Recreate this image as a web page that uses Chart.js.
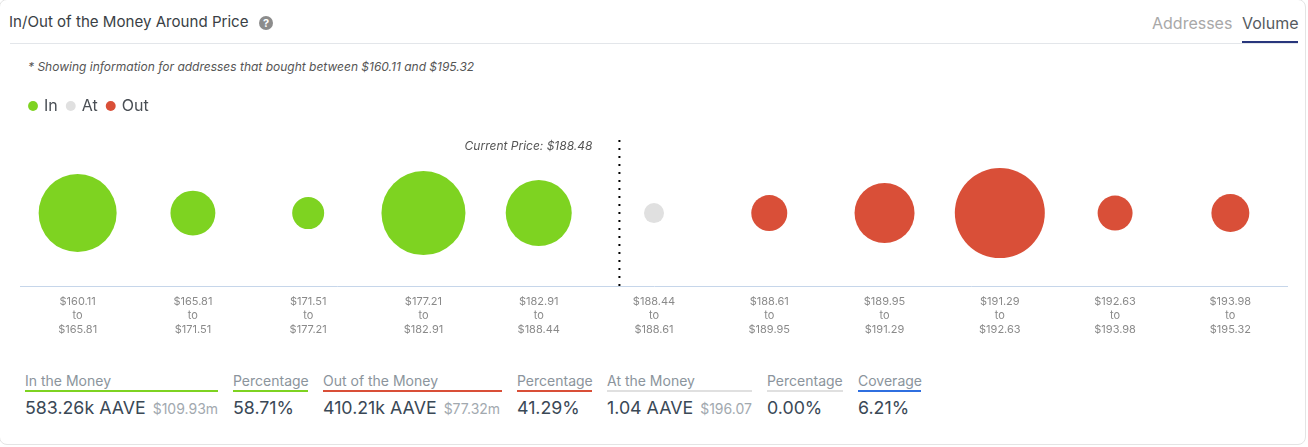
<!DOCTYPE html>
<html>
<head>
<meta charset="utf-8">
<script src="https://cdn.jsdelivr.net/npm/chart.js@4/dist/chart.umd.min.js"></script>
<style>
  html, body { margin: 0; padding: 0; background: #fff; }
  body { width: 1308px; height: 447px; overflow: hidden; position: relative; font-family: Inter, "Noto Sans", sans-serif; }
  .card { position: absolute; left: -1px; top: -1px; width: 1307px; height: 446px; border: 1px solid #e4e4e4; border-radius: 8px; box-sizing: border-box; }
  .abs { position: absolute; white-space: nowrap; }
  #title { left: 9px; top: 13px; font-size: 15.1px; line-height: 18px; color: #3a3f45; }
  #help { left: 259px; top: 16px; width: 14px; height: 14px; border-radius: 50%; background: #8c8c8c; color: #fff; font-size: 11px; font-weight: 700; line-height: 14px; text-align: center; }
  #rule { left: 10px; top: 43px; width: 1288px; height: 1px; background: #e3e6ea; }
  #tab1 { left: 1152px; top: 13px; font-size: 16px; line-height: 20px; color: #a8a8a8; }
  #tab2 { left: 1242px; top: 13px; font-size: 16px; line-height: 20px; color: #555a60; }
  #tabline { left: 1242px; top: 41px; width: 56px; height: 2px; background: #28367c; }
  #note { left: 28px; top: 59px; font-size: 12px; line-height: 15px; font-style: italic; color: #555; }
  #wrap { position: absolute; left: 20px; top: 88px; width: 1268px; height: 257px; }
  .stat { position: absolute; top: 372px; }
  .stat .lab { font-size: 14px; line-height: 17px; color: #8b949c; white-space: nowrap; }
  .stat .bar { height: 2px; margin-top: 1px; }
  .stat .val { font-size: 17.8px; line-height: 22px; margin-top: 5px; color: #3a4856; white-space: nowrap; }
  .stat .val small { font-size: 14px; color: #a2a9af; margin-left: 2px; }
</style>
</head>
<body>
<div class="card"></div>
<div class="abs" id="title">In/Out of the Money Around Price</div>
<div class="abs" id="help">?</div>
<div class="abs" id="tab1">Addresses</div>
<div class="abs" id="tab2">Volume</div>
<div class="abs" id="rule"></div>
<div class="abs" id="tabline"></div>
<div class="abs" id="note">* Showing information for addresses that bought between $160.11 and $195.32</div>
<div id="wrap"><canvas id="chart"></canvas></div>
<div id="stats"></div>

<script>
/* --------------- Data ------------------------------------------ */
const rangeFrom = ["$160.11", "$165.81", "$171.51", "$177.21", "$182.91", "$188.44", "$188.61", "$189.95", "$191.29", "$192.63", "$193.98"];
const rangeTo = ["$165.81", "$171.51", "$177.21", "$182.91", "$188.44", "$188.61", "$189.95", "$191.29", "$192.63", "$193.98", "$195.32"];
const categories = rangeFrom.map((from, i) => from + " to " + rangeTo[i]);

// volume in AAVE per price range
const inValues = [169000, 56000, 28400, 196000, 121000];
const atValues = [1.04];
const outValues = [36000, 100000, 225000, 34000, 40000];

const currentPriceText = "Current Price: $188.48";
const currentPricePos = 4.7; // category index, inside the $188.44 - $188.61 range

const stats = [
  { label: "In the Money", value: "583.26k AAVE", usd: "$109.93m", color: "#7ed321", left: 25, width: 193 },
  { label: "Percentage", value: "58.71%", usd: "", color: "#7ed321", left: 233, width: 75 },
  { label: "Out of the Money", value: "410.21k AAVE", usd: "$77.32m", color: "#d94f38", left: 323, width: 179 },
  { label: "Percentage", value: "41.29%", usd: "", color: "#d94f38", left: 517, width: 75 },
  { label: "At the Money", value: "1.04 AAVE", usd: "$196.07", color: "#e0e0e0", left: 607, width: 145 },
  { label: "Percentage", value: "0.00%", usd: "", color: "#e0e0e0", left: 767, width: 76 },
  { label: "Coverage", value: "6.21%", usd: "", color: "#2f6fe0", left: 858, width: 63 },
];

/* --------------- Bubble helpers --------------------- */
const radiusOf = (volume) => Math.max(10, 3 * Math.sqrt(volume / 1000));
const toPoints = (values, offset) =>
  values.map((v, i) => ({ x: categories[offset + i], y: 0, r: radiusOf(v) }));

/* --------------- Dotted current price line --------------------- */
const priceLine = {
  id: "priceLine",
  afterDatasetsDraw(chart) {
    const { ctx, scales: { x, y } } = chart;
    const px = x.getPixelForValue(currentPricePos);
    ctx.save();
    ctx.strokeStyle = "#000";
    ctx.lineWidth = 2;
    ctx.setLineDash([2, 6]);
    ctx.beginPath();
    ctx.moveTo(px, y.getPixelForValue(1));
    ctx.lineTo(px, y.getPixelForValue(-1));
    ctx.stroke();
    ctx.setLineDash([]);
    ctx.fillStyle = "#555";
    ctx.font = "italic 12px Inter";
    ctx.textAlign = "right";
    ctx.textBaseline = "middle";
    ctx.fillText(currentPriceText, px - 27, y.getPixelForValue(1) + 6);
    ctx.restore();
  },
};

/* --------------- Chart insertion --------------------- */
new Chart(document.getElementById("chart"), {
  type: "bubble",
  plugins: [priceLine],
  data: {
    datasets: [
      { label: "In", data: toPoints(inValues, 0), backgroundColor: "#7ed321", borderWidth: 0 },
      { label: "At", data: toPoints(atValues, 5), backgroundColor: "#e0e0e0", borderWidth: 0 },
      { label: "Out", data: toPoints(outValues, 6), backgroundColor: "#d94f38", borderWidth: 0 },
    ],
  },
  options: {
    responsive: true,
    maintainAspectRatio: false,
    animation: false,
    layout: { padding: 0, autoPadding: false },
    plugins: {
      tooltip: { enabled: false },
      legend: {
        display: true,
        position: "top",
        align: "start",
        labels: {
          usePointStyle: true,
          pointStyle: "circle",
          boxWidth: 6,
          boxHeight: 7,
          padding: 10,
          color: "#4a4f55",
          font: { family: "Inter", size: 16 },
        },
      },
    },
    scales: {
      x: {
        type: "category",
        labels: categories,
        offset: true,
        grid: { display: false, drawTicks: false },
        border: { display: true, color: "#c6d6ea", width: 1 },
        ticks: {
          autoSkip: false,
          maxRotation: 0,
          padding: 8,
          color: "#8a8a8a",
          font: { family: "Inter", size: 11, lineHeight: 1.3 },
          callback: (_, i) => [rangeFrom[i], "to", rangeTo[i]],
        },
      },
      y: { display: false, min: -1, max: 1.22 },
    },
  },
});

/* --------------- Bottom summary row --------------------- */
document.getElementById("stats").innerHTML = stats.map((s) => `
  <div class="stat" style="left:${s.left}px;width:${s.width}px">
    <div class="lab">${s.label}</div>
    <div class="bar" style="background:${s.color}"></div>
    <div class="val">${s.value}${s.usd ? ` <small>${s.usd}</small>` : ""}</div>
  </div>`).join("");
</script>
</body>
</html>
